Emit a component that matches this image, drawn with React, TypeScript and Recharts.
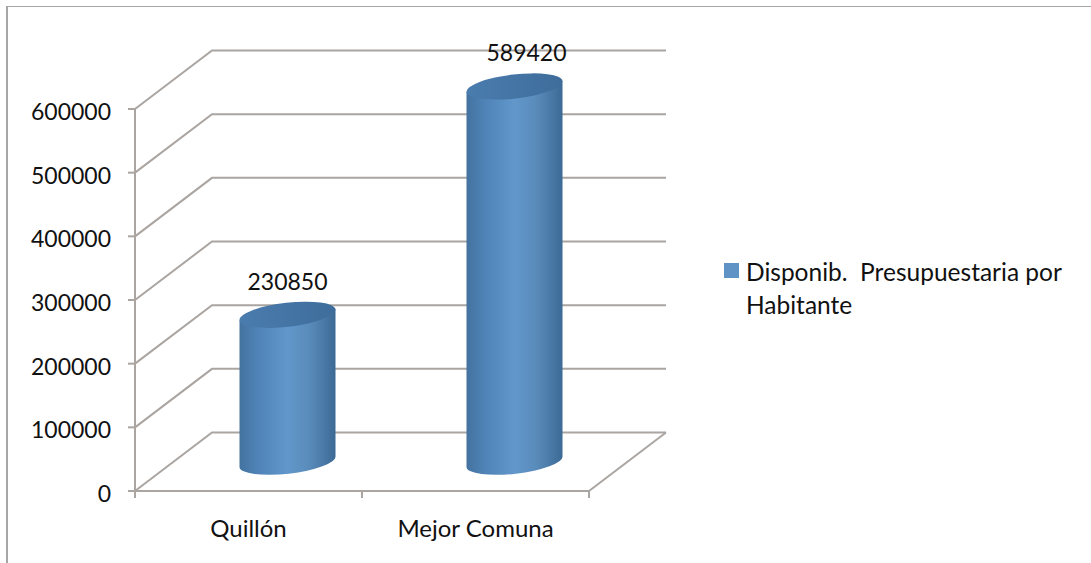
import { BarChart, Bar, XAxis, YAxis, CartesianGrid, Legend, LabelList } from "recharts";

const categories = ["Quillón", "Mejor Comuna"];
const values = [230850, 589420];
const yTicks = [0, 100000, 200000, 300000, 400000, 500000, 600000];
const seriesName = "Disponib.  Presupuestaria por Habitante";

const chartData = categories.map((name, i) => ({ name, value: values[i] }));

const W = 1091;
const H = 563;
const margin = { top: 109, right: 502, bottom: 0, left: 0 };
const baseline = H - 72;

// depth of the fake 3d box, and where the cylinders stand inside it
const depthX = 77;
const depthY = 58.5;
const midX = depthX / 2;
const midY = depthY / 2;

const gridColor = "#aaa5a1";
const lineWidth = 2;
const font = "Lato, 'Open Sans', sans-serif";

const GridLine = ({ x1, y1, x2 }: any) => {
  const isFloor = y1 >= baseline - 1;
  // category ticks sit on the band edges here, not on the band centres
  const edges = [x1, (x1 + x2) / 2, x2];
  return (
    <g fill="none" stroke={gridColor} strokeWidth={lineWidth}>
      <polyline points={`${x1},${y1} ${x1 + depthX},${y1 - depthY} ${x2 + depthX},${y1 - depthY}`} />
      {isFloor && <line x1={x2} y1={y1} x2={x2 + depthX} y2={y1 - depthY} />}
      {isFloor && edges.map((ex) => <line key={ex} x1={ex} y1={y1} x2={ex} y2={y1 + 7} />)}
    </g>
  );
};

const Cylinder = ({ x, y, width, height }: any) => {
  const left = x + midX;
  const right = left + width;
  const top = y - midY;
  const bottom = top + height;
  const tilt = 6.5;
  const rx = width / 2 / Math.cos((tilt * Math.PI) / 180);
  const ry = 12;
  const lift = (width / 2) * Math.tan((tilt * Math.PI) / 180);
  const arc = `A${rx} ${ry} -${tilt} 0 0`;
  return (
    <g>
      <path
        d={`M${left} ${top + lift} L${left} ${bottom + lift} ${arc} ${right} ${bottom - lift} L${right} ${top - lift} Z`}
        fill="url(#cyl)"
      />
      <ellipse
        cx={left + width / 2}
        cy={top}
        rx={rx}
        ry={ry}
        fill="url(#cap)"
        transform={`rotate(-${tilt} ${left + width / 2} ${top})`}
      />
    </g>
  );
};

const ValueLabel = ({ x, y, width, value, index }: any) => (
  <text
    x={x + width / 2 + midX + (index === 1 ? 12 : 0)}
    y={y - midY - 25}
    textAnchor="middle"
    fontFamily={font}
    fontSize={23}
    fill="#111"
  >
    {value}
  </text>
);

const LegendBox = ({ payload }: any) => (
  <div style={{ display: "flex", fontFamily: font, fontSize: 24.5, color: "#111", lineHeight: "33px" }}>
    <span style={{ width: 15, height: 15, background: payload?.[0]?.color, marginTop: 8, marginRight: 7, flexShrink: 0 }} />
    <span style={{ whiteSpace: "pre-wrap" }}>{payload?.[0]?.value}</span>
  </div>
);

export default function App() {
  return (
    <div style={{ position: "absolute", left: 0, top: 0, width: W, height: H, background: "#fff", overflow: "hidden" }}>
      <div
        style={{
          position: "absolute",
          left: 6,
          top: 6,
          right: 0,
          bottom: 0,
          borderLeft: "2px solid #a6a6a6",
          borderTop: "1.5px solid #a6a6a6",
        }}
      />
      <BarChart width={W} height={H} data={chartData} margin={margin} barSize={96} style={{ position: "absolute" }}>
        <defs>
          <linearGradient id="cyl" x1="0" y1="0" x2="1" y2="0">
            <stop offset="0" stopColor="#43729f" />
            <stop offset="0.2" stopColor="#5084b8" />
            <stop offset="0.5" stopColor="#6197cb" />
            <stop offset="0.72" stopColor="#5a8cbb" />
            <stop offset="1" stopColor="#3c6a96" />
          </linearGradient>
          <linearGradient id="cap" x1="0" y1="0" x2="1" y2="0">
            <stop offset="0" stopColor="#4a7cae" />
            <stop offset="1" stopColor="#3e6d9b" />
          </linearGradient>
        </defs>
        <CartesianGrid vertical={false} horizontal={(p: any) => <GridLine key={p.index} {...p} />} />
        <XAxis
          dataKey="name"
          height={72}
          stroke={gridColor}
          strokeWidth={lineWidth}
          tickLine={false}
          tickMargin={23}
          tick={{ fill: "#111", fontFamily: font, fontSize: 24 }}
        />
        <YAxis
          domain={[0, 600000]}
          ticks={yTicks}
          stroke={gridColor}
          strokeWidth={lineWidth}
          tickSize={7}
          tickMargin={17}
          width={135}
          tick={{ fill: "#111", fontFamily: font, fontSize: 23, dy: 3 }}
        />
        <Legend
          layout="vertical"
          align="center"
          verticalAlign="middle"
          content={<LegendBox />}
          wrapperStyle={{ left: 724, top: 255, width: 350 }}
        />
        <Bar dataKey="value" name={seriesName} fill="#5f93c6" shape={<Cylinder />} isAnimationActive={false}>
          <LabelList dataKey="value" content={<ValueLabel />} />
        </Bar>
      </BarChart>
    </div>
  );
}
